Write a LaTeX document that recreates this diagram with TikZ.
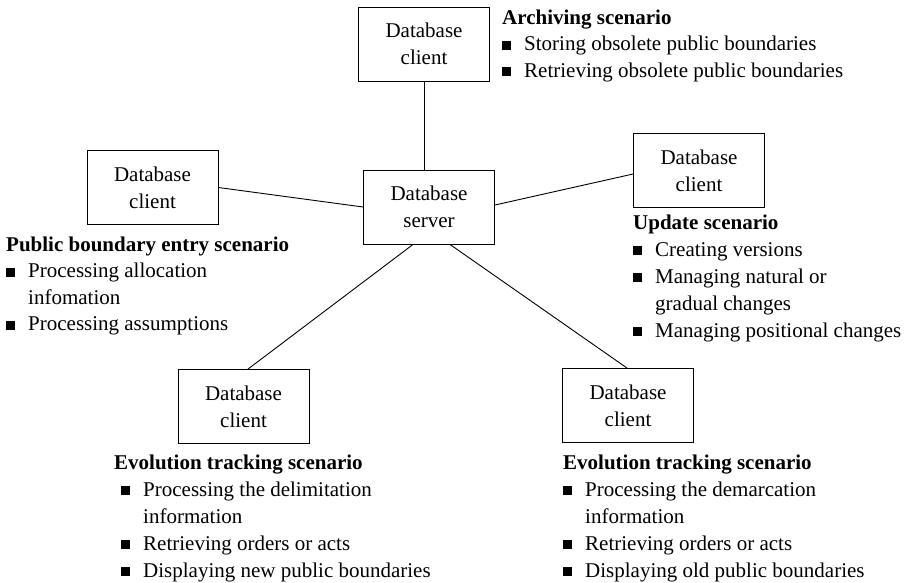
\documentclass[tikz,border=0pt]{standalone}
\usepackage{fontspec}
\setmainfont{Liberation Serif}

% square bullet with hanging indent
\newcommand{\sqitem}[1]{\makebox[22pt][l]{\raisebox{1pt}{\rule{9pt}{9pt}}}#1}
\newcommand{\sqcont}[1]{\hspace*{22pt}#1}

\tikzset{
  dbbox/.style={draw, line width=0.9pt, minimum width=131pt, minimum height=74pt,
                inner sep=0pt, align=center, font=\fontsize{21}{27}\selectfont},
  link/.style={line width=0.9pt},
  scen/.style={anchor=base west, inner sep=0pt, font=\fontsize{21}{26.5}\selectfont},
  scenwide/.style={scen, font=\fontsize{21}{27}\selectfont},
}

\begin{document}
\begin{tikzpicture}[x=1pt, y=-1pt]
\useasboundingbox (0,0) rectangle (909,582);

% boxes
\node[dbbox] (top) at (424,44)    {Database\\client};
\node[dbbox] (lc)  at (152.5,187.5) {Database\\client};
\node[dbbox] (srv) at (429,207)   {Database\\server};
\node[dbbox] (rc)  at (699,170.5) {Database\\client};
\node[dbbox] (bl)  at (243.5,406.5) {Database\\client};
\node[dbbox] (br)  at (628,405.5) {Database\\client};

% connectors
\draw[link] (top.south) -- (top.south |- srv.north);
\draw[link] (lc.east) -- (srv.west);
\draw[link] ([yshift=2pt]srv.east) -- ([yshift=-3.5pt]rc.west);
\draw[link] ([xshift=-16pt]srv.south) -- ([xshift=4.5pt]bl.north);
\draw[link] ([xshift=21pt]srv.south) -- ([xshift=-1pt]br.north);

% scenario descriptions
\node[scen] (arch) at (502,24) {\begin{tabular}[t]{@{}l@{}}
  \textbf{Archiving scenario}\\
  \sqitem{Storing obsolete public boundaries}\\
  \sqitem{Retrieving obsolete public boundaries}
\end{tabular}};

\node[scen] (pub) at (6,251) {\begin{tabular}[t]{@{}l@{}}
  \textbf{Public boundary entry scenario}\\
  \sqitem{Processing allocation}\\
  \sqcont{infomation}\\
  \sqitem{Processing assumptions}
\end{tabular}};

\node[scenwide] (upd) at (633,229) {\begin{tabular}[t]{@{}l@{}}
  \textbf{Update scenario}\\
  \sqitem{Creating versions}\\
  \sqitem{Managing natural or}\\
  \sqcont{gradual changes}\\
  \sqitem{Managing positional changes}
\end{tabular}};

\node[scenwide] (evl) at (114,469) {\begin{tabular}[t]{@{}l@{}}
  \textbf{Evolution tracking scenario}\\
  \hspace*{7pt}\sqitem{Processing the delimitation}\\
  \hspace*{7pt}\sqcont{information}\\
  \hspace*{7pt}\sqitem{Retrieving orders or acts}\\
  \hspace*{7pt}\sqitem{Displaying new public boundaries}
\end{tabular}};

\node[scenwide] (evr) at (563,469) {\begin{tabular}[t]{@{}l@{}}
  \textbf{Evolution tracking scenario}\\
  \sqitem{Processing the demarcation}\\
  \sqcont{information}\\
  \sqitem{Retrieving orders or acts}\\
  \sqitem{Displaying old public boundaries}
\end{tabular}};
\end{tikzpicture}
\end{document}
